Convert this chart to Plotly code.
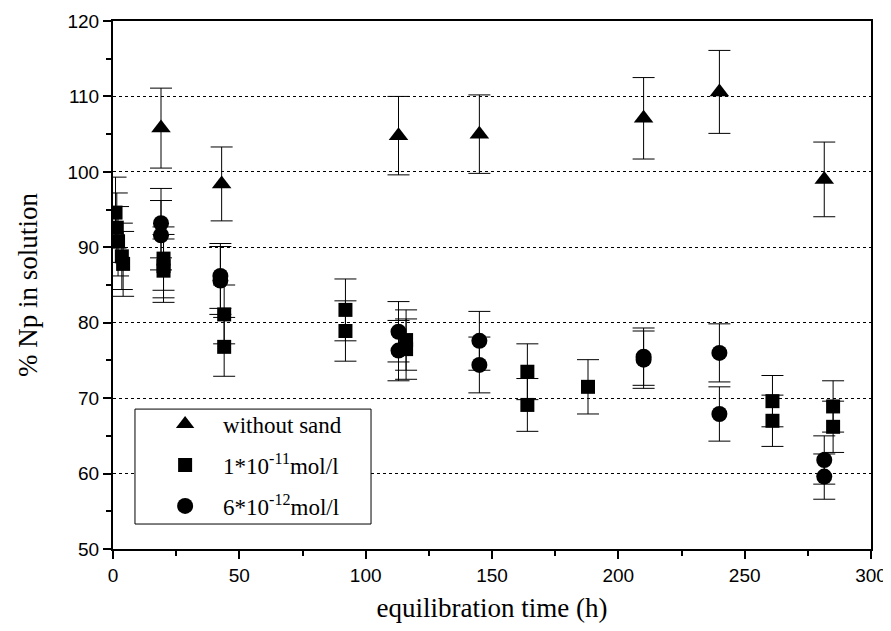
import plotly.graph_objects as go

# ---- data ----
tri_x = [19, 43, 113, 145, 210, 240, 281.5]
tri_y = [105.8, 98.4, 104.8, 105.0, 107.1, 110.6, 99.0]
tri_err = [5.3, 4.9, 5.2, 5.2, 5.4, 5.5, 4.95]

sq_x = [1, 1.5, 2, 3.5, 4, 20, 20, 20, 44, 44, 92, 92, 116, 116, 164, 164, 188, 261, 261, 285, 285]
sq_y = [94.6, 92.6, 90.8, 88.8, 87.8, 88.5, 87.5, 86.9, 81.1, 76.8, 81.7, 78.9, 77.7, 76.5, 73.5, 69.1,
        71.5, 69.6, 67.0, 68.9, 66.2]
sq_err = [4.7, 4.6, 4.6, 4.4, 4.3, 4.2, 4.2, 4.2, 3.9, 3.9, 4.1, 4.0, 4.0, 4.0, 3.7, 3.5, 3.6, 3.4, 3.4,
          3.4, 3.4]

ci_x = [19, 19, 42.5, 42.5, 113, 113, 145, 145, 210, 210, 240, 240, 281.5, 281.5]
ci_y = [93.2, 91.6, 86.2, 85.6, 78.8, 76.3, 77.6, 74.4, 75.5, 75.1, 76.0, 67.9, 61.8, 59.6]
ci_err = [4.6, 4.6, 4.3, 4.5, 4.0, 4.0, 3.9, 3.7, 3.8, 3.8, 3.85, 3.6, 3.2, 3.0]

names = ["without sand", "1*10<sup>-11</sup>mol/l", "6*10<sup>-12</sup>mol/l"]
x_ticks = [0, 50, 100, 150, 200, 250, 300]
y_ticks = [50, 60, 70, 80, 90, 100, 110, 120]

fig = go.Figure()

def add(xs, ys, errs, name, symbol, size, grp):
    fig.add_trace(go.Scatter(
        x=xs, y=ys, mode="markers", name=name, legendgroup=grp,
        marker=dict(symbol=symbol, size=size, color="black", line=dict(width=0)),
        error_y=dict(type="data", array=errs, visible=True, color="black",
                     thickness=1, width=11),
    ))

add(tri_x, tri_y, tri_err, names[0], "triangle-up", 17, "a")
add(sq_x, sq_y, sq_err, names[1], "square", 14, "b")
add(ci_x, ci_y, ci_err, names[2], "circle", 16, "c")

# page body has an 8px margin, so the figure is sized to fit the 891x631 window
fig.update_layout(
    width=883, height=623,
    margin=dict(l=105, r=20, t=13, b=82, autoexpand=False),
    plot_bgcolor="white", paper_bgcolor="white",
    showlegend=True,
    legend=dict(
        x=0.045, y=0.2772, xanchor="left", yanchor="top",
        bgcolor="rgba(0,0,0,0)", borderwidth=0,
        font=dict(family="Liberation Serif", size=23, color="black"),
        itemwidth=66, tracegroupgap=8,
    ),
    shapes=[dict(type="rect", xref="paper", yref="paper",
                 x0=0.029, x1=0.3404, y0=0.0473, y1=0.265,
                 line=dict(color="black", width=1), fillcolor="white", layer="above")],
)

fig.update_xaxes(
    range=[0, 300], tickvals=x_ticks, ticks="outside", ticklen=8, tickwidth=1.5,
    tickcolor="black", showline=True, linewidth=2, linecolor="black", mirror=True,
    showgrid=False, zeroline=False, automargin=False,
    minor=dict(dtick=25, ticks="outside", ticklen=5, tickwidth=1.5, tickcolor="black", showgrid=False),
    tickfont=dict(family="Liberation Sans", size=19, color="black"),
    title=dict(text="equilibration time (h)", font=dict(family="Liberation Serif", size=27, color="black"),
               standoff=13),
)
fig.update_yaxes(
    range=[50, 120], tickvals=y_ticks, ticks="outside", ticklen=8, tickwidth=1.5,
    tickcolor="black", showline=True, linewidth=2, linecolor="black", mirror=True,
    showgrid=True, gridcolor="black", gridwidth=1, griddash="dot", zeroline=False, automargin=False,
    minor=dict(dtick=5, ticks="outside", ticklen=5, tickwidth=1.5, tickcolor="black", showgrid=False),
    tickfont=dict(family="Liberation Sans", size=19, color="black"),
    title=dict(text="% Np in solution", font=dict(family="Liberation Serif", size=27, color="black"),
               standoff=22),
)

fig.write_html("out.html")
